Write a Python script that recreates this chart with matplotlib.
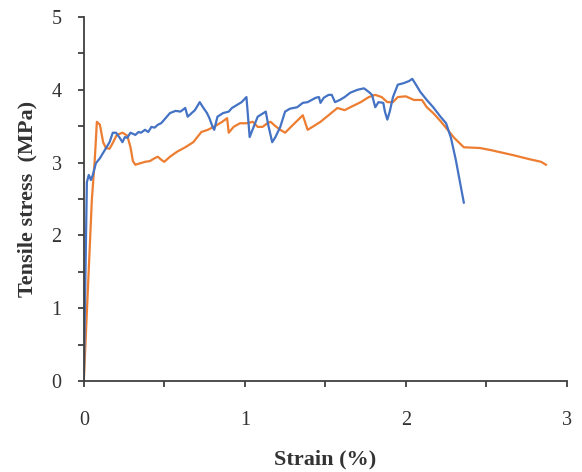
import matplotlib
matplotlib.use("Agg")
import matplotlib.pyplot as plt
from matplotlib.ticker import MultipleLocator

# sample 1 (blue)
strain_a = [0, 0.019, 0.031, 0.044, 0.056, 0.075, 0.10, 0.13, 0.16, 0.18, 0.20, 0.22,
            0.24, 0.255, 0.27, 0.29, 0.32, 0.34, 0.355, 0.38, 0.40, 0.42, 0.44, 0.46,
            0.48, 0.50, 0.535, 0.57, 0.60, 0.63, 0.645, 0.69, 0.72, 0.74, 0.765, 0.78,
            0.80, 0.81, 0.83, 0.865, 0.90, 0.92, 0.95, 0.98, 1.01, 1.03, 1.06, 1.08,
            1.13, 1.145, 1.17, 1.19, 1.22, 1.25, 1.28, 1.325, 1.36, 1.39, 1.44, 1.46,
            1.47, 1.49, 1.52, 1.54, 1.56, 1.59, 1.62, 1.655, 1.70, 1.74, 1.77, 1.79,
            1.81, 1.83, 1.86, 1.87, 1.885, 1.90, 1.92, 1.95, 1.985, 2.02, 2.04, 2.06,
            2.09, 2.13, 2.17, 2.215, 2.25, 2.28, 2.31, 2.36]
stress_a = [0, 2.73, 2.83, 2.76, 2.83, 2.99, 3.06, 3.17, 3.28, 3.41, 3.41, 3.35,
            3.28, 3.35, 3.34, 3.41, 3.38, 3.42, 3.41, 3.45, 3.42, 3.49, 3.48, 3.52,
            3.54, 3.59, 3.68, 3.71, 3.70, 3.75, 3.63, 3.72, 3.83, 3.76, 3.68, 3.61,
            3.49, 3.45, 3.63, 3.68, 3.70, 3.75, 3.79, 3.83, 3.90, 3.35, 3.52, 3.63,
            3.70, 3.52, 3.28, 3.35, 3.49, 3.70, 3.74, 3.76, 3.82, 3.83, 3.89, 3.90,
            3.82, 3.89, 3.93, 3.93, 3.83, 3.86, 3.90, 3.96, 4.00, 4.02, 3.97, 3.93,
            3.76, 3.83, 3.82, 3.70, 3.59, 3.70, 3.90, 4.07, 4.09, 4.12, 4.15, 4.08,
            3.97, 3.86, 3.76, 3.63, 3.54, 3.34, 3.04, 2.45]

# sample 2 (orange)
strain_b = [0, 0.05, 0.068, 0.075, 0.081, 0.10, 0.12, 0.137, 0.16, 0.18, 0.205, 0.24,
            0.27, 0.29, 0.305, 0.32, 0.35, 0.38, 0.41, 0.44, 0.46, 0.48, 0.50, 0.535,
            0.58, 0.63, 0.68, 0.73, 0.77, 0.815, 0.86, 0.89, 0.90, 0.93, 0.97, 1.01,
            1.05, 1.08, 1.11, 1.14, 1.16, 1.19, 1.22, 1.25, 1.30, 1.36, 1.39, 1.42,
            1.47, 1.52, 1.575, 1.62, 1.655, 1.72, 1.77, 1.81, 1.85, 1.885, 1.92, 1.95,
            2.00, 2.05, 2.10, 2.13, 2.17, 2.215, 2.26, 2.30, 2.36, 2.46, 2.53, 2.57,
            2.67, 2.76, 2.84, 2.87]
stress_b = [0, 2.49, 3.04, 3.31, 3.56, 3.52, 3.28, 3.20, 3.19, 3.27, 3.38, 3.41,
            3.37, 3.21, 3.02, 2.97, 2.99, 3.01, 3.02, 3.06, 3.08, 3.04, 3.01, 3.08,
            3.15, 3.21, 3.28, 3.42, 3.45, 3.50, 3.56, 3.61, 3.41, 3.49, 3.54, 3.54,
            3.56, 3.49, 3.49, 3.54, 3.56, 3.50, 3.45, 3.41, 3.52, 3.65, 3.45, 3.49,
            3.56, 3.65, 3.75, 3.72, 3.76, 3.83, 3.90, 3.93, 3.90, 3.83, 3.83, 3.90,
            3.91, 3.86, 3.86, 3.76, 3.68, 3.57, 3.45, 3.34, 3.21, 3.20, 3.17, 3.15,
            3.10, 3.05, 3.01, 2.97]

plt.rcParams['font.family'] = ['Liberation Serif', 'DejaVu Serif']

fig = plt.figure(figsize=(5.82, 4.72), dpi=100)
ax = fig.add_axes([0.144, 0.193, 0.830, 0.771])

ax.plot(strain_b, stress_b, color='#ED7D31', lw=1.6)
ax.plot(strain_a, stress_a, color='#4472C4', lw=1.6)

ax.set_xlim(0, 3)
ax.set_ylim(0, 5)
ax.xaxis.set_major_locator(MultipleLocator(1))
ax.xaxis.set_minor_locator(MultipleLocator(0.5))
ax.yaxis.set_major_locator(MultipleLocator(1))
ax.yaxis.set_minor_locator(MultipleLocator(0.5))

for s in ['top', 'right']:
    ax.spines[s].set_visible(False)
for s in ['left', 'bottom']:
    ax.spines[s].set_color('#404040')
    ax.spines[s].set_linewidth(1.3)

ax.tick_params(which='both', direction='out', length=4, width=1.3, color='#404040')
ax.tick_params(axis='x', which='major', pad=18, labelsize=14.5, labelcolor='#333333')
ax.tick_params(axis='y', which='major', pad=12, labelsize=14.5, labelcolor='#333333')

ax.set_xlabel('Strain (%)', fontsize=16, fontweight='bold', color='#333333', labelpad=14)
ax.set_ylabel('Tensile stress  (MPa)', fontsize=16, fontweight='bold', color='#333333', labelpad=10)

fig.savefig('out.png', dpi=100)
